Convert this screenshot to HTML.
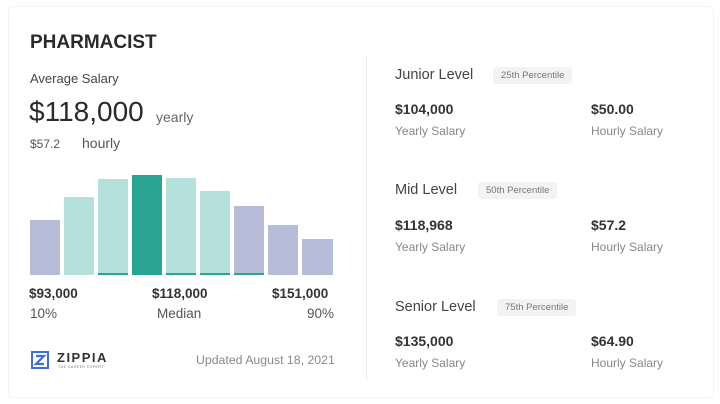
<!DOCTYPE html>
<html><head><meta charset="utf-8"><style>
html,body{margin:0;padding:0;}
body{width:720px;height:404px;background:#fff;position:relative;overflow:hidden;font-family:"Liberation Sans",sans-serif;color:#333;}
.a{position:absolute;white-space:nowrap;}
.bar{position:absolute;bottom:129px;width:30px;}
.l{background:#b5e0dc;}
.p{background:#b7bdd9;}
.d{background:#2aa594;}
.tag{position:absolute;background:#f3f3f3;border-radius:3px;font-size:9.5px;color:#777;padding:3px 8px;}
.v{font-size:14px;font-weight:bold;color:#333;}
.s{font-size:12px;color:#888;}
</style></head><body>
<div class="a" style="left:8px;top:6px;width:704px;height:390px;border:1px solid #f5f5f5;border-radius:4px;"></div>
<div class="a" style="left:30px;top:32px;font-size:19px;font-weight:bold;color:#2a2a2a;">PHARMACIST</div>
<div class="a" style="left:30px;top:71px;font-size:13px;color:#444;">Average Salary</div>
<div class="a" style="left:29px;top:96px;font-size:28px;color:#2a2a2a;">$118,000</div>
<div class="a" style="left:156px;top:109px;font-size:14px;color:#666;">yearly</div>
<div class="a" style="left:30px;top:137px;font-size:12px;color:#555;">$57.2</div>
<div class="a" style="left:82px;top:135px;font-size:14px;color:#555;">hourly</div>

<div class="bar p" style="left:30px;height:55px;"></div>
<div class="bar l" style="left:64px;height:78px;"></div>
<div class="bar l" style="left:98px;height:94px;border-bottom:2px solid #2aa594;"></div>
<div class="bar d" style="left:132px;height:100px;"></div>
<div class="bar l" style="left:166px;height:95px;border-bottom:2px solid #2aa594;"></div>
<div class="bar l" style="left:200px;height:82px;border-bottom:2px solid #2aa594;"></div>
<div class="bar p" style="left:234px;height:67px;border-bottom:2px solid #2aa594;"></div>
<div class="bar p" style="left:268px;height:50px;"></div>
<div class="bar p" style="left:302px;height:36px;width:31px;"></div>

<div class="a" style="left:29px;top:286px;font-size:13.5px;font-weight:bold;color:#333;">$93,000</div>
<div class="a" style="left:152px;top:286px;font-size:13.5px;font-weight:bold;color:#333;">$118,000</div>
<div class="a" style="left:272px;top:286px;font-size:13.5px;font-weight:bold;color:#333;">$151,000</div>
<div class="a" style="left:30px;top:306px;font-size:13.5px;color:#555;">10%</div>
<div class="a" style="left:157px;top:306px;font-size:13.5px;color:#555;">Median</div>
<div class="a" style="left:307px;top:306px;font-size:13.5px;color:#555;">90%</div>

<svg class="a" style="left:31px;top:351px;" width="18" height="18"><rect x="1" y="1" width="16" height="16" fill="none" stroke="#3f6fd6" stroke-width="2"/><path d="M5 5h8L5 13h8" fill="none" stroke="#3f6fd6" stroke-width="2.2"/></svg>
<div class="a" style="left:57px;top:350px;font-size:13px;font-weight:bold;letter-spacing:1.5px;color:#333;">ZIPPIA</div>
<div class="a" style="left:58px;top:365px;font-size:3.5px;color:#777;letter-spacing:0.5px;">THE CAREER EXPERT</div>
<div class="a" style="left:196px;top:353px;font-size:12.3px;color:#888;">Updated August 18, 2021</div>

<div class="a" style="left:366px;top:55px;width:1px;height:325px;background:#eee;"></div>

<div class="a" style="left:395px;top:67px;font-size:14.5px;color:#444;">Junior Level</div>
<div class="tag" style="left:493px;top:67px;">25th Percentile</div>
<div class="a v" style="left:395px;top:101px;">$104,000</div>
<div class="a v" style="left:591px;top:101px;">$50.00</div>
<div class="a s" style="left:395px;top:124px;">Yearly Salary</div>
<div class="a s" style="left:591px;top:124px;">Hourly Salary</div>

<div class="a" style="left:395px;top:182px;font-size:14.5px;color:#444;">Mid Level</div>
<div class="tag" style="left:478px;top:182px;">50th Percentile</div>
<div class="a v" style="left:395px;top:217px;">$118,968</div>
<div class="a v" style="left:591px;top:217px;">$57.2</div>
<div class="a s" style="left:395px;top:240px;">Yearly Salary</div>
<div class="a s" style="left:591px;top:240px;">Hourly Salary</div>

<div class="a" style="left:395px;top:299px;font-size:14.5px;color:#444;">Senior Level</div>
<div class="tag" style="left:497px;top:299px;">75th Percentile</div>
<div class="a v" style="left:395px;top:333px;">$135,000</div>
<div class="a v" style="left:591px;top:333px;">$64.90</div>
<div class="a s" style="left:395px;top:356px;">Yearly Salary</div>
<div class="a s" style="left:591px;top:356px;">Hourly Salary</div>
</body></html>
